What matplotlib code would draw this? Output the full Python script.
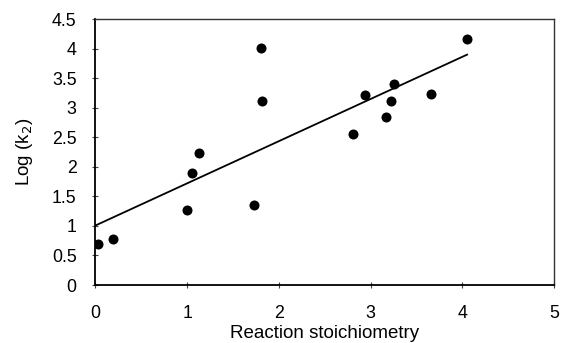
import matplotlib
matplotlib.use('Agg')
import matplotlib.pyplot as plt
import numpy as np

plt.rcParams['font.family'] = ['Liberation Sans', 'DejaVu Sans']

# Reaction stoichiometry vs log(k2)
stoich = [0.03, 0.19, 1.00, 1.05, 1.13, 1.73, 1.80, 1.82, 2.81, 2.94, 3.17, 3.22, 3.25, 3.66, 4.05]
log_k2 = [0.70, 0.78, 1.27, 1.89, 2.23, 1.35, 4.01, 3.11, 2.55, 3.21, 2.85, 3.11, 3.40, 3.23, 4.17]

x_ticks = [0, 1, 2, 3, 4, 5]
y_ticks = [0, 0.5, 1, 1.5, 2, 2.5, 3, 3.5, 4, 4.5]
y_ticklabels = ['0', '0.5', '1', '1.5', '2', '2.5', '3', '3.5', '4', '4.5']

fig = plt.figure(figsize=(5.61, 3.43), dpi=100)
ax = fig.add_axes([0.170, 0.169, 0.818, 0.775])

ax.scatter(stoich, log_k2, s=52, color='black', zorder=3, linewidths=0)

# linear trend line from 0 to the last point
slope, intercept = np.polyfit(stoich, log_k2, 1)
xl = np.array([0, max(stoich)])
ax.plot(xl, intercept + slope * xl, color='black', lw=1.3)

ax.set_xlim(0, 5)
ax.set_ylim(0, 4.5)
ax.set_xticks(x_ticks)
ax.set_yticks(y_ticks)
ax.set_yticklabels(y_ticklabels)
ax.tick_params(direction='inout', length=5, width=0.8, labelsize=12.8, color='#444444')
ax.tick_params(axis='x', pad=12)
ax.tick_params(axis='y', pad=11)

for side in ['left', 'bottom']:
    ax.spines[side].set_linewidth(1.3)
    ax.spines[side].set_color('black')
for side in ['top', 'right']:
    ax.spines[side].set_linewidth(1.0)
    ax.spines[side].set_color('#333333')

ax.set_xlabel('Reaction stoichiometry', fontsize=13.5, labelpad=2)
ax.set_ylabel('Log (k$_2$)', fontsize=13.5, labelpad=12)

fig.savefig('out.png', dpi=100)
